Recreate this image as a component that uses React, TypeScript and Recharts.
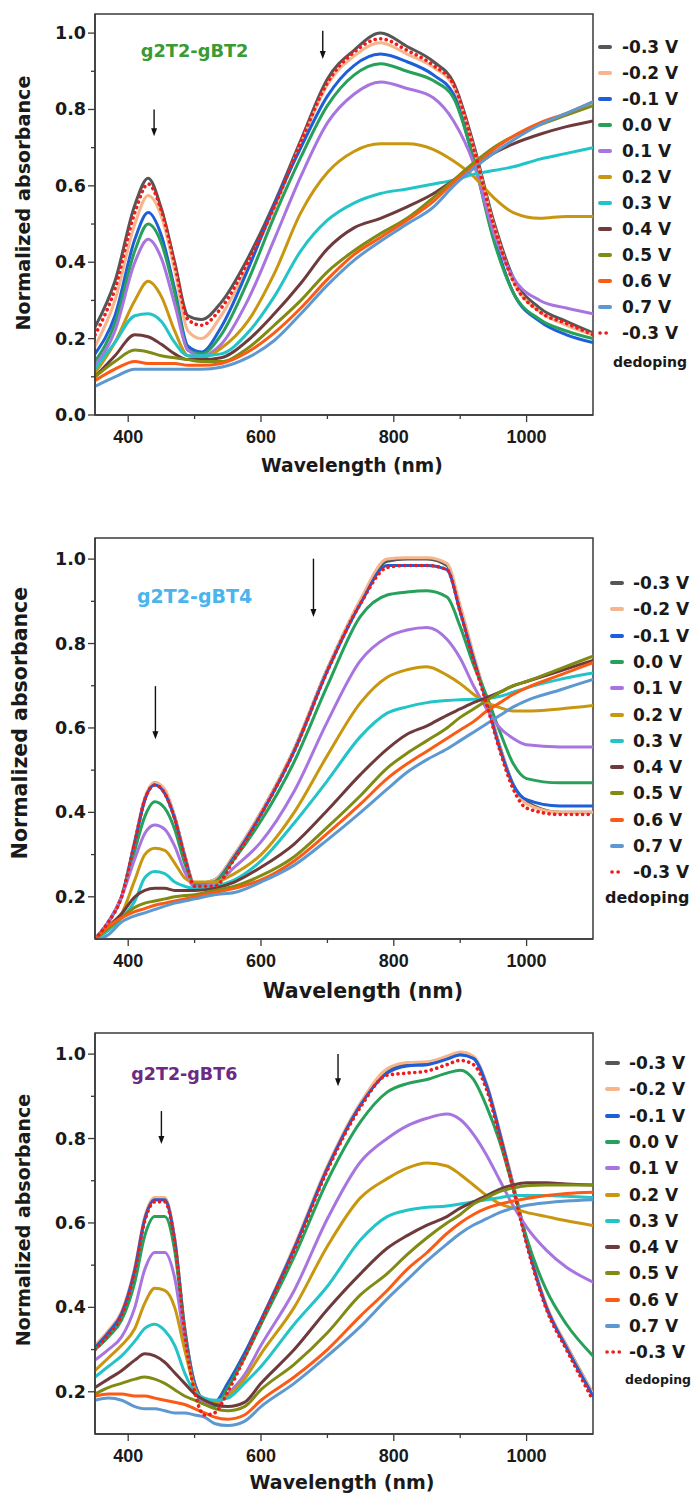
import { LineChart, Line, XAxis, YAxis, ReferenceArea, ReferenceLine, ReferenceDot } from 'recharts'

const FONT = '"DejaVu Sans", sans-serif'
const TICK_FONT = '"Liberation Sans", Arial, sans-serif'
const AXIS = '#3a3a3a'

// legend order (last one is the dedoping scan, drawn dotted)
const voltageLabels = ['-0.3 V', '-0.2 V', '-0.1 V', '0.0 V', '0.1 V', '0.2 V', '0.3 V', '0.4 V', '0.5 V', '0.6 V', '0.7 V', '-0.3 V']
const seriesColors = ['#565656', '#f6b58a', '#1c5fd8', '#27a05a', '#a875e0', '#c8960f', '#23c4c8', '#6e3a3c', '#808b14', '#fb5b14', '#5e98d0', '#ee1c1c']
const seriesKeys = ['m03', 'm02', 'm01', 'p00', 'p01', 'p02', 'p03', 'p04', 'p05', 'p06', 'p07', 'dd']

const xTicks = [400, 500, 600, 700, 800, 900, 1000]
const yTicksFull = [0, 0.1, 0.2, 0.3, 0.4, 0.5, 0.6, 0.7, 0.8, 0.9, 1.0]
const yTicksCut = [0.2, 0.3, 0.4, 0.5, 0.6, 0.7, 0.8, 0.9, 1.0]

// ---- g2T2-gBT2 ----
const waveBT2 = [350, 380, 410, 430, 450, 470, 490, 510, 540, 580, 620, 660, 700, 740, 780, 820, 860, 890, 920, 950, 980, 1020, 1060, 1100]
const bt2_m03 = [0.23, 0.35, 0.55, 0.62, 0.54, 0.40, 0.26, 0.25, 0.295, 0.41, 0.555, 0.72, 0.88, 0.955, 1.0, 0.965, 0.925, 0.87, 0.71, 0.51, 0.36, 0.28, 0.245, 0.215]
const bt2_m02 = [0.18, 0.30, 0.50, 0.575, 0.52, 0.38, 0.22, 0.20, 0.26, 0.39, 0.54, 0.71, 0.865, 0.94, 0.975, 0.945, 0.91, 0.86, 0.70, 0.50, 0.35, 0.27, 0.235, 0.21]
const bt2_m01 = [0.16, 0.26, 0.46, 0.53, 0.47, 0.33, 0.18, 0.165, 0.23, 0.38, 0.55, 0.70, 0.835, 0.915, 0.945, 0.925, 0.89, 0.84, 0.67, 0.47, 0.32, 0.245, 0.21, 0.19]
const bt2_p00 = [0.14, 0.24, 0.43, 0.50, 0.45, 0.32, 0.17, 0.16, 0.21, 0.35, 0.52, 0.675, 0.81, 0.89, 0.92, 0.90, 0.875, 0.83, 0.67, 0.46, 0.32, 0.25, 0.22, 0.20]
const bt2_p01 = [0.13, 0.22, 0.40, 0.46, 0.41, 0.29, 0.17, 0.155, 0.185, 0.30, 0.46, 0.625, 0.765, 0.84, 0.872, 0.855, 0.83, 0.77, 0.66, 0.48, 0.36, 0.30, 0.28, 0.265]
const bt2_p02 = [0.11, 0.19, 0.30, 0.35, 0.31, 0.22, 0.155, 0.15, 0.175, 0.245, 0.37, 0.53, 0.635, 0.69, 0.71, 0.71, 0.695, 0.665, 0.625, 0.57, 0.53, 0.515, 0.52, 0.52]
const bt2_p03 = [0.12, 0.19, 0.26, 0.265, 0.245, 0.19, 0.155, 0.155, 0.16, 0.215, 0.31, 0.43, 0.51, 0.555, 0.58, 0.592, 0.605, 0.615, 0.63, 0.64, 0.65, 0.67, 0.685, 0.70]
const bt2_p04 = [0.10, 0.155, 0.21, 0.205, 0.185, 0.16, 0.145, 0.145, 0.15, 0.195, 0.265, 0.345, 0.435, 0.49, 0.515, 0.545, 0.58, 0.615, 0.65, 0.685, 0.71, 0.735, 0.755, 0.77]
const bt2_p05 = [0.10, 0.14, 0.17, 0.165, 0.155, 0.15, 0.145, 0.14, 0.14, 0.175, 0.235, 0.30, 0.375, 0.43, 0.475, 0.515, 0.57, 0.615, 0.66, 0.70, 0.73, 0.76, 0.785, 0.81]
const bt2_p06 = [0.09, 0.12, 0.14, 0.135, 0.135, 0.135, 0.13, 0.13, 0.135, 0.165, 0.215, 0.28, 0.355, 0.42, 0.465, 0.51, 0.56, 0.61, 0.65, 0.695, 0.73, 0.765, 0.79, 0.82]
const bt2_p07 = [0.075, 0.10, 0.12, 0.12, 0.12, 0.12, 0.12, 0.12, 0.125, 0.15, 0.195, 0.265, 0.34, 0.405, 0.455, 0.50, 0.545, 0.60, 0.645, 0.685, 0.72, 0.76, 0.79, 0.82]
const bt2_dd = [0.21, 0.33, 0.53, 0.605, 0.535, 0.395, 0.25, 0.235, 0.28, 0.40, 0.545, 0.715, 0.87, 0.95, 0.985, 0.955, 0.915, 0.865, 0.70, 0.50, 0.35, 0.27, 0.24, 0.21]

// ---- g2T2-gBT4 ----
const waveBT4 = [350, 370, 390, 410, 425, 440, 455, 470, 485, 500, 530, 560, 600, 650, 700, 750, 790, 820, 850, 880, 900, 920, 940, 960, 980, 1000, 1050, 1100]
const bt4_m03 = [0.10, 0.14, 0.20, 0.33, 0.43, 0.47, 0.45, 0.39, 0.30, 0.23, 0.24, 0.30, 0.40, 0.55, 0.74, 0.90, 0.995, 1.0, 1.0, 0.985, 0.88, 0.77, 0.665, 0.555, 0.465, 0.425, 0.40, 0.40]
const bt4_m02 = [0.10, 0.14, 0.20, 0.335, 0.435, 0.47, 0.455, 0.39, 0.30, 0.23, 0.24, 0.30, 0.40, 0.55, 0.74, 0.905, 1.0, 1.003, 1.003, 0.99, 0.89, 0.775, 0.665, 0.555, 0.465, 0.42, 0.40, 0.40]
const bt4_m01 = [0.10, 0.14, 0.20, 0.33, 0.43, 0.465, 0.445, 0.385, 0.295, 0.225, 0.235, 0.295, 0.395, 0.545, 0.735, 0.895, 0.985, 0.985, 0.985, 0.975, 0.875, 0.765, 0.66, 0.55, 0.465, 0.43, 0.415, 0.415]
const bt4_p00 = [0.10, 0.14, 0.20, 0.31, 0.39, 0.425, 0.41, 0.36, 0.28, 0.23, 0.235, 0.29, 0.38, 0.52, 0.70, 0.865, 0.915, 0.922, 0.925, 0.91, 0.84, 0.75, 0.675, 0.59, 0.515, 0.48, 0.47, 0.47]
const bt4_p01 = [0.10, 0.14, 0.20, 0.29, 0.35, 0.37, 0.36, 0.32, 0.26, 0.225, 0.23, 0.27, 0.33, 0.45, 0.615, 0.76, 0.815, 0.832, 0.838, 0.81, 0.765, 0.70, 0.645, 0.60, 0.575, 0.56, 0.555, 0.555]
const bt4_p02 = [0.10, 0.13, 0.16, 0.24, 0.30, 0.315, 0.31, 0.28, 0.245, 0.235, 0.235, 0.255, 0.30, 0.40, 0.535, 0.66, 0.72, 0.738, 0.745, 0.725, 0.705, 0.68, 0.66, 0.648, 0.64, 0.64, 0.645, 0.653]
const bt4_p03 = [0.10, 0.12, 0.15, 0.19, 0.245, 0.26, 0.255, 0.235, 0.225, 0.22, 0.225, 0.24, 0.285, 0.375, 0.475, 0.58, 0.635, 0.65, 0.66, 0.665, 0.667, 0.668, 0.67, 0.675, 0.685, 0.695, 0.715, 0.73]
const bt4_p04 = [0.10, 0.13, 0.16, 0.20, 0.215, 0.22, 0.22, 0.215, 0.215, 0.215, 0.22, 0.235, 0.27, 0.325, 0.405, 0.49, 0.55, 0.585, 0.605, 0.63, 0.645, 0.66, 0.672, 0.685, 0.70, 0.71, 0.735, 0.76]
const bt4_p05 = [0.10, 0.125, 0.15, 0.175, 0.185, 0.19, 0.195, 0.20, 0.203, 0.205, 0.215, 0.225, 0.25, 0.295, 0.365, 0.44, 0.505, 0.54, 0.57, 0.60, 0.625, 0.645, 0.665, 0.685, 0.70, 0.71, 0.74, 0.77]
const bt4_p06 = [0.10, 0.13, 0.15, 0.165, 0.172, 0.18, 0.185, 0.19, 0.195, 0.20, 0.21, 0.22, 0.24, 0.285, 0.35, 0.42, 0.48, 0.515, 0.545, 0.575, 0.595, 0.615, 0.64, 0.66, 0.68, 0.695, 0.725, 0.755]
const bt4_p07 = [0.095, 0.11, 0.14, 0.155, 0.162, 0.17, 0.178, 0.185, 0.19, 0.195, 0.205, 0.21, 0.235, 0.275, 0.335, 0.40, 0.455, 0.495, 0.525, 0.55, 0.57, 0.59, 0.61, 0.63, 0.65, 0.665, 0.69, 0.715]
const bt4_dd = [0.10, 0.14, 0.20, 0.33, 0.43, 0.465, 0.445, 0.385, 0.295, 0.225, 0.225, 0.29, 0.395, 0.545, 0.735, 0.895, 0.98, 0.985, 0.985, 0.975, 0.875, 0.76, 0.655, 0.545, 0.455, 0.41, 0.395, 0.395]

// ---- g2T2-gBT6 ----
const waveBT6 = [350, 370, 390, 410, 425, 440, 455, 470, 485, 500, 515, 530, 550, 575, 600, 650, 700, 750, 790, 820, 850, 880, 900, 920, 940, 960, 980, 1000, 1030, 1060, 1100]
const bt6_m03 = [0.31, 0.34, 0.385, 0.49, 0.61, 0.655, 0.655, 0.56, 0.35, 0.22, 0.18, 0.175, 0.22, 0.29, 0.37, 0.54, 0.73, 0.88, 0.96, 0.975, 0.978, 0.99, 1.0, 0.99, 0.925, 0.81, 0.69, 0.56, 0.40, 0.31, 0.195]
const bt6_m02 = [0.31, 0.345, 0.39, 0.495, 0.615, 0.66, 0.66, 0.565, 0.355, 0.22, 0.18, 0.175, 0.22, 0.29, 0.37, 0.545, 0.735, 0.885, 0.965, 0.98, 0.982, 0.995, 1.005, 0.995, 0.93, 0.815, 0.69, 0.56, 0.405, 0.31, 0.195]
const bt6_m01 = [0.305, 0.34, 0.385, 0.49, 0.61, 0.655, 0.655, 0.56, 0.35, 0.22, 0.18, 0.175, 0.22, 0.29, 0.37, 0.54, 0.73, 0.88, 0.955, 0.972, 0.975, 0.988, 0.998, 0.99, 0.925, 0.81, 0.685, 0.555, 0.40, 0.305, 0.19]
const bt6_p00 = [0.30, 0.33, 0.37, 0.46, 0.57, 0.615, 0.615, 0.535, 0.34, 0.21, 0.17, 0.165, 0.21, 0.28, 0.36, 0.52, 0.70, 0.84, 0.91, 0.93, 0.94, 0.955, 0.962, 0.94, 0.875, 0.79, 0.68, 0.565, 0.44, 0.36, 0.285]
const bt6_p01 = [0.275, 0.30, 0.33, 0.40, 0.49, 0.53, 0.53, 0.47, 0.32, 0.21, 0.175, 0.17, 0.195, 0.24, 0.31, 0.44, 0.61, 0.745, 0.80, 0.83, 0.848, 0.858, 0.845, 0.81, 0.76, 0.70, 0.64, 0.59, 0.535, 0.495, 0.46]
const bt6_p02 = [0.25, 0.28, 0.31, 0.35, 0.41, 0.445, 0.44, 0.40, 0.30, 0.21, 0.18, 0.175, 0.19, 0.23, 0.29, 0.40, 0.545, 0.66, 0.705, 0.73, 0.742, 0.735, 0.715, 0.69, 0.665, 0.645, 0.635, 0.625, 0.615, 0.605, 0.594]
const bt6_p03 = [0.235, 0.26, 0.285, 0.32, 0.35, 0.36, 0.345, 0.31, 0.245, 0.20, 0.185, 0.18, 0.185, 0.22, 0.26, 0.36, 0.45, 0.56, 0.615, 0.63, 0.637, 0.64, 0.645, 0.65, 0.655, 0.66, 0.665, 0.665, 0.665, 0.663, 0.66]
const bt6_p04 = [0.21, 0.23, 0.25, 0.275, 0.29, 0.285, 0.27, 0.245, 0.22, 0.195, 0.18, 0.17, 0.165, 0.175, 0.22, 0.30, 0.395, 0.48, 0.54, 0.57, 0.595, 0.615, 0.635, 0.65, 0.665, 0.68, 0.69, 0.695, 0.695, 0.692, 0.69]
const bt6_p05 = [0.195, 0.21, 0.22, 0.23, 0.235, 0.23, 0.22, 0.205, 0.19, 0.18, 0.17, 0.16, 0.155, 0.165, 0.205, 0.265, 0.34, 0.43, 0.48, 0.525, 0.565, 0.60, 0.62, 0.645, 0.66, 0.675, 0.683, 0.688, 0.69, 0.69, 0.69]
const bt6_p06 = [0.19, 0.195, 0.195, 0.19, 0.19, 0.185, 0.18, 0.175, 0.17, 0.16, 0.15, 0.14, 0.135, 0.145, 0.18, 0.235, 0.30, 0.38, 0.44, 0.49, 0.53, 0.575, 0.60, 0.62, 0.635, 0.645, 0.652, 0.658, 0.665, 0.67, 0.673]
const bt6_p07 = [0.18, 0.185, 0.18, 0.165, 0.16, 0.16, 0.155, 0.15, 0.15, 0.145, 0.14, 0.125, 0.12, 0.13, 0.165, 0.22, 0.285, 0.355, 0.42, 0.465, 0.51, 0.55, 0.575, 0.595, 0.61, 0.625, 0.635, 0.642, 0.648, 0.652, 0.655]
const bt6_dd = [0.30, 0.335, 0.38, 0.485, 0.605, 0.65, 0.65, 0.555, 0.34, 0.20, 0.145, 0.15, 0.20, 0.28, 0.365, 0.535, 0.725, 0.875, 0.95, 0.955, 0.96, 0.975, 0.985, 0.975, 0.915, 0.80, 0.68, 0.55, 0.395, 0.30, 0.18]

type ArrowSpec = { x: number; from: number; to: number }
type PanelProps = {
  top: number
  height: number
  marginTop: number
  xAxisHeight: number
  wave: number[]
  series: number[][]
  yMin: number
  yTicks: number[]
  name: string
  nameColor: string
  nameSize: number
  namePos: { x: number; y: number }
  arrows: ArrowSpec[]
  yTitle: { x: number; y: number; size: number }
  xTitle: { x: number; y: number; size: number }
  legend: { cy: number; step: number; sx: number; sw: number; tx: number; dx: number; dcy: number; dsize: number }
}

const renderYTick = (props: any) => {
  const { x, y, payload } = props
  const v = payload.value
  const axisX = x + 10
  const major = Math.round(v * 10) % 2 === 0
  return (
    <g>
      <line x1={axisX - (major ? 7 : 4)} x2={axisX} y1={y} y2={y} stroke={AXIS} strokeWidth={1.3} />
      {major && (
        <text x={x + 1} y={y + 6} textAnchor="end" fontFamily={FONT} fontWeight="bold" fontSize={17.5} fill="#1a1a1a">
          {v.toFixed(1)}
        </text>
      )}
    </g>
  )
}

const renderXTick = (props: any) => {
  const { x, y, payload } = props
  const v = payload.value
  const axisY = y - 10
  const major = v % 200 === 0
  return (
    <g>
      <line x1={x} x2={x} y1={axisY} y2={axisY + (major ? 7 : 4)} stroke={AXIS} strokeWidth={1.3} />
      {major && (
        <text x={x} y={axisY + 28} textAnchor="middle" fontFamily={TICK_FONT} fontWeight="bold" fontSize={18} fill="#1a1a1a">
          {v}
        </text>
      )}
    </g>
  )
}

function AxisTitle({ tx, ty, size, text, rotate }: any) {
  return (
    <text
      x={tx}
      y={ty}
      textAnchor="middle"
      dominantBaseline={rotate ? 'central' : 'auto'}
      transform={rotate ? `rotate(-90 ${tx} ${ty})` : undefined}
      fontFamily={FONT}
      fontWeight="bold"
      fontSize={size}
      fill="#1a1a1a"
    >
      {text}
    </text>
  )
}

const Arrow = (props: any) => {
  const { x1, y1, x2, y2 } = props
  return (
    <g>
      <line x1={x1} y1={y1} x2={x2} y2={y2 - 6} stroke="#111" strokeWidth={1.4} />
      <path d={`M${x2 - 3},${y2 - 8} L${x2 + 3},${y2 - 8} L${x2},${y2} Z`} fill="#111" />
    </g>
  )
}

function Panel(p: PanelProps) {
  const data = p.wave.map((w, i) => {
    const row: Record<string, number> = { w }
    p.series.forEach((s, k) => {
      row[seriesKeys[k]] = s[i]
    })
    return row
  })
  const L = p.legend

  return (
    <div style={{ position: 'absolute', left: 0, top: p.top, width: 699, height: p.height }}>
      <LineChart width={699} height={p.height} data={data} margin={{ top: p.marginTop, right: 106, bottom: 0, left: 0 }}>
        <XAxis
          dataKey="w"
          type="number"
          domain={[350, 1100]}
          ticks={xTicks}
          interval={0}
          height={p.xAxisHeight}
          tickSize={7}
          tickMargin={3}
          tickLine={false}
          tick={renderXTick}
          axisLine={{ stroke: AXIS, strokeWidth: 1.5 }}
          allowDataOverflow
          label={<AxisTitle tx={p.xTitle.x} ty={p.xTitle.y} size={p.xTitle.size} text="Wavelength (nm)" />}
        />
        <YAxis
          type="number"
          domain={[p.yMin, 1.05]}
          ticks={p.yTicks}
          interval={0}
          width={95}
          tickSize={7}
          tickMargin={3}
          tickLine={false}
          tick={renderYTick}
          axisLine={{ stroke: AXIS, strokeWidth: 1.5 }}
          allowDataOverflow
          label={<AxisTitle tx={p.yTitle.x} ty={p.yTitle.y} size={p.yTitle.size} text="Normalized absorbance" rotate />}
        />
        <ReferenceArea x1={350} x2={1100} y1={p.yMin} y2={1.05} fill="none" fillOpacity={0} stroke={AXIS} strokeWidth={1.5} />
        {p.series.map((_, k) => (
          <Line
            key={seriesKeys[k]}
            dataKey={seriesKeys[k]}
            type="monotone"
            stroke={seriesColors[k]}
            strokeWidth={k === 11 ? 3.6 : 3}
            strokeDasharray={k === 11 ? '0.1 5.5' : undefined}
            strokeLinecap="round"
            dot={false}
            activeDot={false}
            isAnimationActive={false}
          />
        ))}
        {p.arrows.map((a, i) => (
          <ReferenceLine
            key={`arrow-${i}`}
            segment={[
              { x: a.x, y: a.from },
              { x: a.x, y: a.to },
            ]}
            shape={Arrow}
          />
        ))}
        <ReferenceDot
          x={p.namePos.x}
          y={p.namePos.y}
          r={0}
          shape={(s: any) => (
            <text x={s.cx} y={s.cy} textAnchor="middle" dominantBaseline="central" fontFamily={FONT} fontWeight="bold" fontSize={p.nameSize} fill={p.nameColor}>
              {p.name}
            </text>
          )}
        />
      </LineChart>

      {/* legend */}
      {voltageLabels.map((lab, i) => {
        const cy = L.cy + i * L.step
        return (
          <div key={`lg-${i}`}>
            {i === 11 ? (
              <svg style={{ position: 'absolute', left: L.sx, top: cy - 3 }} width={L.sw + 2} height={6}>
                <line x1={2} y1={3} x2={L.sw} y2={3} stroke={seriesColors[i]} strokeWidth={3.6} strokeDasharray="0.1 6" strokeLinecap="round" />
              </svg>
            ) : (
              <div
                style={{
                  position: 'absolute',
                  left: L.sx,
                  top: cy - 2,
                  width: L.sw,
                  height: 4,
                  borderRadius: 2,
                  background: seriesColors[i],
                }}
              />
            )}
            <div
              style={{
                position: 'absolute',
                left: L.tx,
                top: cy,
                transform: 'translateY(-50%)',
                fontFamily: FONT,
                fontWeight: 'bold',
                fontSize: 17,
                lineHeight: 1,
                color: '#1a1a1a',
                whiteSpace: 'nowrap',
              }}
            >
              {lab}
            </div>
          </div>
        )
      })}
      <div
        style={{
          position: 'absolute',
          left: L.dx,
          top: L.dcy,
          transform: 'translateY(-50%)',
          fontFamily: FONT,
          fontWeight: 'bold',
          fontSize: L.dsize,
          lineHeight: 1,
          color: '#1a1a1a',
        }}
      >
        dedoping
      </div>
    </div>
  )
}

export default function App() {
  return (
    <div style={{ position: 'absolute', left: 0, top: 0, width: 699, height: 1497, background: '#fff', overflow: 'hidden' }}>
      <Panel
        top={0}
        height={480}
        marginTop={14}
        xAxisHeight={65}
        wave={waveBT2}
        series={[bt2_m03, bt2_m02, bt2_m01, bt2_p00, bt2_p01, bt2_p02, bt2_p03, bt2_p04, bt2_p05, bt2_p06, bt2_p07, bt2_dd]}
        yMin={0}
        yTicks={yTicksFull}
        name="g2T2-gBT2"
        nameColor="#3a9a34"
        nameSize={17.8}
        namePos={{ x: 500, y: 0.955 }}
        arrows={[
          { x: 439, from: 0.8, to: 0.73 },
          { x: 693, from: 1.006, to: 0.932 },
        ]}
        yTitle={{ x: 23, y: 203, size: 19.2 }}
        xTitle={{ x: 352, y: 472, size: 18.7 }}
        legend={{ cy: 47, step: 26, sx: 598, sw: 14, tx: 622, dx: 613, dcy: 362, dsize: 14 }}
      />
      <Panel
        top={490}
        height={515}
        marginTop={48}
        xAxisHeight={66}
        wave={waveBT4}
        series={[bt4_m03, bt4_m02, bt4_m01, bt4_p00, bt4_p01, bt4_p02, bt4_p03, bt4_p04, bt4_p05, bt4_p06, bt4_p07, bt4_dd]}
        yMin={0.1}
        yTicks={yTicksCut}
        name="g2T2-gBT4"
        nameColor="#4cb4ec"
        nameSize={19}
        namePos={{ x: 500, y: 0.913 }}
        arrows={[
          { x: 441, from: 0.699, to: 0.573 },
          { x: 679, from: 1.001, to: 0.863 },
        ]}
        yTitle={{ x: 20, y: 233, size: 20.5 }}
        xTitle={{ x: 363, y: 508, size: 20.6 }}
        legend={{ cy: 93, step: 26.3, sx: 610, sw: 14, tx: 633, dx: 605, dcy: 408, dsize: 16 }}
      />
      <Panel
        top={1000}
        height={497}
        marginTop={33}
        xAxisHeight={63}
        wave={waveBT6}
        series={[bt6_m03, bt6_m02, bt6_m01, bt6_p00, bt6_p01, bt6_p02, bt6_p03, bt6_p04, bt6_p05, bt6_p06, bt6_p07, bt6_dd]}
        yMin={0.1}
        yTicks={yTicksCut}
        name="g2T2-gBT6"
        nameColor="#6d2a84"
        nameSize={17.5}
        namePos={{ x: 484.5, y: 0.953 }}
        arrows={[
          { x: 450, from: 0.865, to: 0.787 },
          { x: 716, from: 1.0, to: 0.924 },
        ]}
        yTitle={{ x: 23, y: 220, size: 19 }}
        xTitle={{ x: 342, y: 489, size: 19 }}
        legend={{ cy: 63, step: 26.3, sx: 605, sw: 15, tx: 629, dx: 625, dcy: 380, dsize: 12.5 }}
      />
    </div>
  )
}
